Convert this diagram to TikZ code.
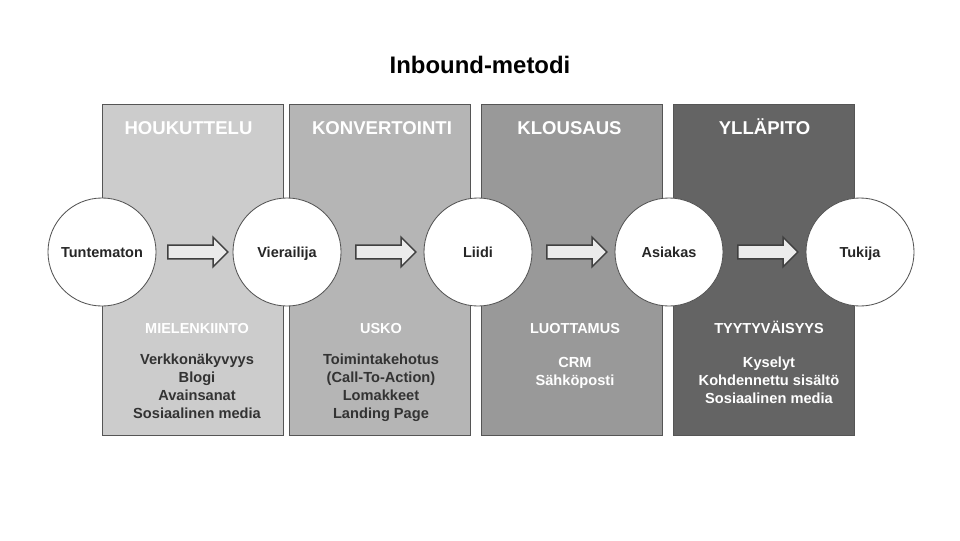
\documentclass[tikz,border=0pt]{standalone}
\usepackage{fontspec}
\setmainfont{Liberation Sans}
\usetikzlibrary{shapes.arrows, positioning, calc}

\definecolor{fase1}{HTML}{CCCCCC}
\definecolor{fase2}{HTML}{B5B5B5}
\definecolor{fase3}{HTML}{999999}
\definecolor{fase4}{HTML}{646464}
\definecolor{reuna}{HTML}{555555}
\definecolor{teksti}{HTML}{333333}

\begin{document}
\begin{tikzpicture}[
		x=0.025cm, y=-0.025cm,
		% Tyylit vaiheille, asemille ja nuolille
		phase/.style = {draw=reuna, line width=0.6pt, rectangle, minimum width=4.525cm, minimum height=8.275cm, inner sep=0pt},
		stage/.style = {draw=reuna, fill=white, circle, line width=0.6pt, minimum size=2.7cm, inner sep=0pt, text height=0.75em, text depth=0pt, font=\bfseries\fontsize{10.3}{12}\selectfont, text=black!85},
		flow/.style = {draw=black!75, fill=black!8, single arrow, line width=1pt, minimum height=1.5cm, inner sep=4.4pt, single arrow head extend=0.2cm, single arrow head indent=0pt},
		heading/.style = {text=white, text height=0.75em, text depth=0pt, font=\bfseries\fontsize{13.2}{15}\selectfont},
		subhead/.style = {text=white, text height=0.75em, text depth=0pt, font=\bfseries\fontsize{10.3}{12}\selectfont},
		items/.style = {align=center, anchor=north, font=\bfseries\fontsize{10.4}{12.8}\selectfont}
		]
		
		\useasboundingbox (0,0) rectangle (960,540);
		
		% --- OTSIKKO ---
		\node [font=\bfseries\fontsize{17}{20}\selectfont, text=black] (title) at (480,65) {Inbound-metodi};
		
		% --- VAIHEET ---
		\node [phase, fill=fase1] (p1) at (192.5,269.5) {};
		\node [phase, fill=fase2] (p2) at (380,269.5) {};
		\node [phase, fill=fase3] (p3) at (571.5,269.5) {};
		\node [phase, fill=fase4] (p4) at (763.5,269.5) {};
		
		\node [heading] (h1) at ($(p1.north)+(-4,26)$) {HOUKUTTELU};
		\node [heading] (h2) at ($(p2.north)+(2,26)$) {KONVERTOINTI};
		\node [heading] (h3) at ($(p3.north)+(-2,26)$) {KLOUSAUS};
		\node [heading] (h4) at ($(p4.north)+(1,26)$) {YLLÄPITO};
		
		% --- ASEMAT ---
		\node [stage] (c1) at (102,252) {Tuntematon};
		\node [stage] (c2) at (287,252) {Vierailija};
		\node [stage] (c3) at (478,252) {Liidi};
		\node [stage] (c4) at (669,252) {Asiakas};
		\node [stage] (c5) at (860,252) {Tukija};
		
		% --- NUOLET ---
		\node [flow] (a1) at ($(c1.east)!0.5!(c2.west)$) {};
		\node [flow] (a2) at ($(c2.east)!0.5!(c3.west)$) {};
		\node [flow] (a3) at ($(c3.east)!0.5!(c4.west)$) {};
		\node [flow] (a4) at ($(c4.east)!0.5!(c5.west)$) {};
		
		% --- KEINOT ---
		\node [subhead] (s1) at (197,328) {MIELENKIINTO};
		\node [subhead] (s2) at (381,328) {USKO};
		\node [subhead] (s3) at (575,328) {LUOTTAMUS};
		\node [subhead] (s4) at (769,328) {TYYTYVÄISYYS};
		
		\node [items, text=teksti] (l1) at (197,349) {Verkkonäkyvyys\\Blogi\\Avainsanat\\Sosiaalinen media};
		\node [items, text=teksti] (l2) at (381,349) {Toimintakehotus\\(Call-To-Action)\\Lomakkeet\\Landing Page};
		\node [items, text=white] (l3) at (575,352) {CRM\\Sähköposti};
		\node [items, text=white] (l4) at (769,352) {Kyselyt\\Kohdennettu sisältö\\Sosiaalinen media};
		
	\end{tikzpicture}
\end{document}
